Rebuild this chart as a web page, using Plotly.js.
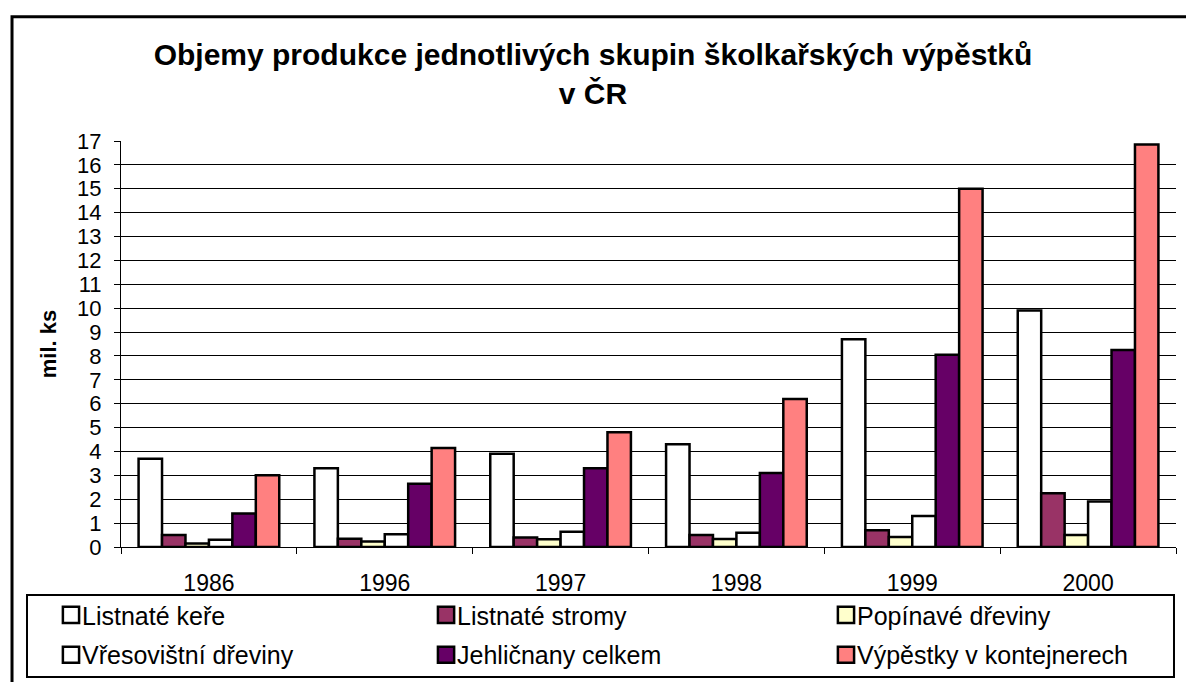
<!DOCTYPE html>
<html>
<head>
<meta charset="utf-8">
<script src="https://cdn.plot.ly/plotly-3.0.1.min.js"></script>
<style>
  html, body { margin: 0; padding: 0; background: #fff; }
  #chart { width: 1186px; height: 682px; }
</style>
</head>
<body>
<div id="chart"></div>
<script>
// ---- data ----
const years = ['1986', '1996', '1997', '1998', '1999', '2000'];
const seriesNames = [
  'Listnaté keře',
  'Listnaté stromy',
  'Popínavé dřeviny',
  'Vřesovištní dřeviny',
  'Jehličnany celkem',
  'Výpěstky v kontejnerech'
];
const listnateKere       = [3.7, 3.3, 3.9, 4.3, 8.7, 9.9];
const listnateStromy     = [0.5, 0.35, 0.4, 0.5, 0.7, 2.25];
const popinaveDreviny    = [0.15, 0.23, 0.32, 0.33, 0.42, 0.5];
const vresovistniDreviny = [0.3, 0.53, 0.64, 0.6, 1.3, 1.9];
const jehlicnanyCelkem   = [1.4, 2.65, 3.3, 3.1, 8.05, 8.25];
const vypestkyKontejnery = [3.0, 4.15, 4.8, 6.2, 15.0, 16.85];
const yTicks = [0,1,2,3,4,5,6,7,8,9,10,11,12,13,14,15,16,17];

// ---- styles ----
const colors = ['#FFFFFF', '#993366', '#FFFFCC', '#FFFFFF', '#660066', '#FF8080'];
const values = [listnateKere, listnateStromy, popinaveDreviny, vresovistniDreviny, jehlicnanyCelkem, vypestkyKontejnery];
const legendIds = ['legend', 'legend2', 'legend3', 'legend4', 'legend5', 'legend6'];
const FONT = 'Liberation Sans, Arial, sans-serif';

const traces = values.map((v, i) => ({
  type: 'bar',
  name: seriesNames[i],
  x: years,
  y: v,
  marker: { color: colors[i], line: { color: '#000', width: 2.5 } },
  legend: legendIds[i],
  hoverinfo: 'x+y+name'
}));

// legend placement: three columns (paper x), two rows (container y)
const colX = [-0.0749, 0.2806, 0.6597];
const rowY = [0.0982, 0.0396];
const legendLayout = {};
legendIds.forEach((id, i) => {
  legendLayout[id] = {
    x: colX[i % 3],
    xref: 'paper',
    y: rowY[Math.floor(i / 3)],
    yref: 'container',
    xanchor: 'left',
    yanchor: 'middle',
    orientation: 'h',
    bgcolor: 'rgba(0,0,0,0)',
    borderwidth: 0,
    font: { family: FONT, size: 25, color: '#000' }
  };
});

const layout = Object.assign({
  width: 1186,
  height: 682,
  margin: { l: 121, r: 10, t: 141, b: 135, autoexpand: false },
  paper_bgcolor: '#fff',
  plot_bgcolor: '#fff',
  font: { family: FONT, color: '#000' },
  title: {
    text: '<b>Objemy produkce jednotlivých skupin školkařských výpěstků<br>v ČR</b>',
    font: { family: FONT, size: 30, color: '#000' },
    x: 0.5,
    xref: 'container',
    xanchor: 'center',
    y: 0.905,
    yref: 'container',
    yanchor: 'top'
  },
  barmode: 'group',
  bargap: 0.2,
  bargroupgap: 0,
  xaxis: {
    type: 'category',
    tickson: 'boundaries',
    ticks: 'outside',
    ticklen: 6,
    tickcolor: '#000',
    tickwidth: 1,
    showline: true,
    linecolor: '#000',
    linewidth: 1,
    showgrid: false,
    tickfont: { family: FONT, size: 23, color: '#000' },
    ticklabelstandoff: 15,
    fixedrange: true
  },
  yaxis: {
    range: [0, 17],
    tickvals: yTicks,
    ticks: 'outside',
    ticklen: 6,
    tickcolor: '#000',
    tickwidth: 1,
    showline: true,
    linecolor: '#000',
    linewidth: 1,
    showgrid: true,
    gridcolor: '#000',
    gridwidth: 1,
    zeroline: false,
    tickfont: { family: FONT, size: 22, color: '#000' },
    ticklabelstandoff: 8,
    title: { text: '<b>mil. ks</b>', font: { family: FONT, size: 22, color: '#000' }, standoff: 14 },
    fixedrange: true
  },
  shapes: [
    // outer chart frame
    { type: 'rect', xref: 'paper', yref: 'paper', x0: -0.1033, x1: 1.05, y0: -0.45, y1: 1.306,
      line: { color: '#000', width: 3 }, fillcolor: 'rgba(0,0,0,0)', layer: 'below' },
    // legend box
    { type: 'rect', xref: 'paper', yref: 'paper', x0: -0.0891, x1: 0.9981, y0: -0.3202, y1: -0.1182,
      line: { color: '#000', width: 2 }, fillcolor: 'rgba(0,0,0,0)', layer: 'above' }
  ],
  showlegend: true
}, legendLayout);

function fixLegendSymbols(gd) {
  // larger swatches sitting right next to their text, as in the original
  gd.querySelectorAll('g.traces').forEach(tr => {
    const text = tr.querySelector('text');
    const path = tr.querySelector('g.legendpoints path');
    if (!text || !path) return;
    path.setAttribute('vector-effect', 'non-scaling-stroke');
    path.setAttribute('transform', 'scale(1.35)');
    const tb = text.getBoundingClientRect();
    const pb = path.getBoundingClientRect();
    if (!pb.width) return;
    const dx = (tb.left - 11) - (pb.left + pb.width / 2);
    path.setAttribute('transform', 'translate(' + dx.toFixed(2) + ',0) scale(1.35)');
  });
}

Plotly.newPlot('chart', traces, layout, { displayModeBar: false, staticPlot: true }).then(gd => {
  fixLegendSymbols(gd);
});
</script>
</body>
</html>
